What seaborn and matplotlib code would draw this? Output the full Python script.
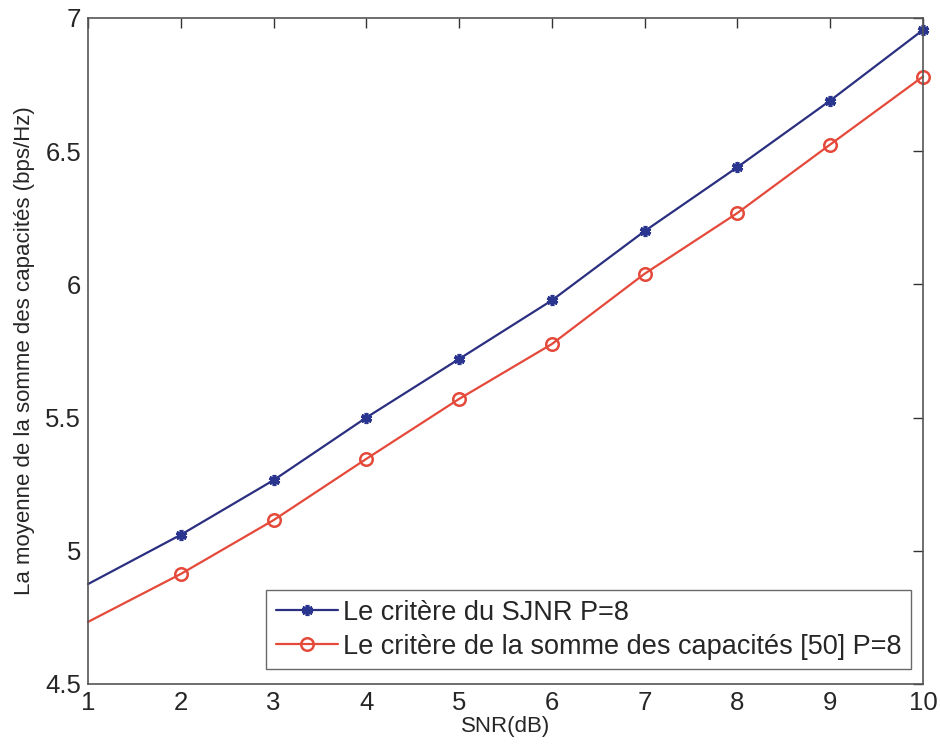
import numpy as np
import pandas as pd
import seaborn as sns
from matplotlib import pyplot as plt

# values
snr_db = [1, 2, 3, 4, 5, 6, 7, 8, 9, 10]
sjnr = [4.875, 5.06, 5.265, 5.50, 5.72, 5.94, 6.20, 6.44, 6.69, 6.955]
sum_cap = [4.733, 4.913, 5.115, 5.345, 5.57, 5.776, 6.04, 6.268, 6.525, 6.78]
labels = ['Le critère du SJNR P=8', 'Le critère de la somme des capacités [50] P=8']

sns.set_style('white')
plt.rcParams['font.family'] = ['Liberation Sans', 'DejaVu Sans']

df = pd.DataFrame({'snr': snr_db * 2,
                   'cap': sjnr + sum_cap,
                   'crit': [labels[0]] * len(snr_db) + [labels[1]] * len(snr_db)})

fig = plt.figure(figsize=(9.4, 7.49), dpi=100)
ax = fig.add_axes([0.0936, 0.0868, 0.8883, 0.8892])

blue, red = '#2a2f80', '#e4493a'
palette = {labels[0]: blue, labels[1]: red}
sns.lineplot(data=df, x='snr', y='cap', hue='crit', palette=palette, ax=ax, legend=False)

lines = ax.get_lines()
lines[0].set(linestyle='-', marker=(6, 2, 0), markersize=8, markeredgewidth=2.6,
             markevery=list(range(1, 10)), color=blue, markeredgecolor='#2a3590',
             linewidth=1.6, clip_on=False)
lines[1].set(linestyle='-', marker='o', markersize=9, markerfacecolor='none',
             markeredgecolor=red, markeredgewidth=1.8, markevery=list(range(1, 10)),
             color=red, linewidth=1.6, clip_on=False)

ax.set_xlim(1, 10)
ax.set_ylim(4.5, 7)
ax.set_xticks(range(1, 11))
ax.set_yticks([4.5, 5, 5.5, 6, 6.5, 7])
ax.set_yticklabels(['4.5', '5', '5.5', '6', '6.5', '7'])
ax.tick_params(direction='in', length=7, width=1, labelsize=18.5, top=True, right=True,
               color='#333333', pad=5)
for s in ax.spines.values():
    s.set_color('#555555')
    s.set_linewidth(1.2)

ax.set_xlabel('SNR(dB)', fontsize=16, labelpad=1)
ax.set_ylabel('La moyenne de la somme des capacités (bps/Hz)', fontsize=16, labelpad=7)

leg = ax.legend(lines, labels, loc='lower right', bbox_to_anchor=(0.986, 0.022), fontsize=19.5,
                frameon=True, fancybox=False, edgecolor='#444444', handlelength=2.3,
                borderpad=0.35, labelspacing=0.3, handletextpad=0.2, borderaxespad=0)
leg.get_frame().set_linewidth(1.0)

plt.savefig('out.png', dpi=100)
